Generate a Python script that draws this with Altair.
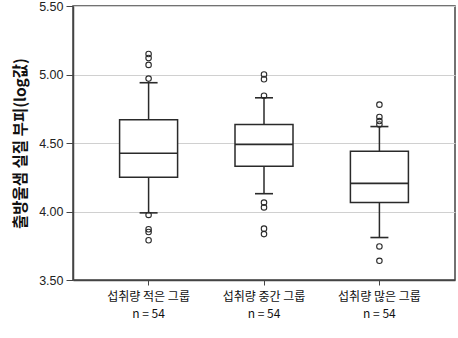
import altair as alt
import pandas as pd

groups = ["섭취량 적은 그룹", "섭취량 중간 그룹", "섭취량 많은 그룹"]
n_counts = [54, 54, 54]
whisker_low = [3.99, 4.13, 3.81]
q1 = [4.25, 4.33, 4.065]
median = [4.425, 4.49, 4.205]
q3 = [4.67, 4.635, 4.44]
whisker_high = [4.94, 4.83, 4.62]
outliers = [
    [5.15, 5.12, 5.07, 4.97, 3.975, 3.87, 3.85, 3.79],
    [5.00, 4.965, 4.845, 4.065, 4.03, 3.875, 3.835],
    [4.78, 4.69, 4.66, 4.635, 3.745, 3.64],
]

labels = [f"{g}|n = {n}" for g, n in zip(groups, n_counts)]

stats = pd.DataFrame({
    "grp": labels,
    "lo": whisker_low,
    "q1": q1,
    "med": median,
    "q3": q3,
    "hi": whisker_high,
})
out_rows = [{"grp": labels[i], "v": v} for i, vals in enumerate(outliers) for v in vals]
outdf = pd.DataFrame(out_rows)

stroke = "#2a2a2a"

x = alt.X(
    "grp:N",
    sort=labels,
    title=None,
    scale=alt.Scale(paddingInner=0, paddingOuter=0.155),
    axis=alt.Axis(
        labelExpr="split(datum.label, '|')",
        labelAngle=0,
        labelFont="Noto Sans CJK KR",
        labelFontSize=12,
        labelColor="#111111",
        labelPadding=6,
        labelLineHeight=17,
        tickSize=5,
        tickColor="#444444",
        domainColor="#444444",
        domainWidth=1.5,
        grid=False,
    ),
)
yscale = alt.Scale(domain=[3.5, 5.5], nice=False, zero=False)
yaxis = alt.Axis(
    values=[3.5, 4.0, 4.5, 5.0, 5.5],
    format=".2f",
    title="출방울샘 실질 부피(log값)",
    titleFont="Noto Sans CJK KR",
    titleFontSize=15.5,
    titleFontWeight="bold",
    titleColor="#111111",
    titlePadding=10,
    labelFont="Liberation Sans",
    labelFontSize=12.5,
    labelColor="#222222",
    labelPadding=3,
    tickSize=7,
    tickColor="#444444",
    domainColor="#444444",
    domainWidth=1.5,
    grid=True,
    gridColor="#d0d0d0",
    gridWidth=1.2,
)

base = alt.Chart(stats)

whisk_low = base.mark_rule(color=stroke, strokeWidth=1.5).encode(
    x=x, y=alt.Y("lo:Q", scale=yscale, axis=yaxis), y2="q1:Q"
)
whisk_high = base.mark_rule(color=stroke, strokeWidth=1.5).encode(
    x=x, y=alt.Y("q3:Q"), y2="hi:Q"
)
box = base.mark_bar(size=58, fill="white", stroke=stroke, strokeWidth=1.5).encode(
    x=x, y=alt.Y("q1:Q"), y2="q3:Q"
)
med = base.mark_tick(size=58, thickness=1.6, color=stroke, opacity=1).encode(x=x, y="med:Q")
cap_lo = base.mark_tick(size=18, thickness=1.6, color=stroke, opacity=1).encode(x=x, y="lo:Q")
cap_hi = base.mark_tick(size=18, thickness=1.6, color=stroke, opacity=1).encode(x=x, y="hi:Q")
pts = alt.Chart(outdf).mark_point(
    shape="circle", size=30, filled=False, color=stroke, strokeWidth=1.1, opacity=1
).encode(x=x, y=alt.Y("v:Q"))

chart = alt.layer(whisk_low, whisk_high, box, med, cap_lo, cap_hi, pts).properties(
    width=382,
    height=274,
    autosize=alt.AutoSizeParams(type="none"),
    padding={"left": 73, "top": 6, "right": 3, "bottom": 58},
    background="white",
).configure_view(stroke="#444444", strokeWidth=1.5)

chart.save("out.html", embed_options={"renderer": "svg", "actions": False})
